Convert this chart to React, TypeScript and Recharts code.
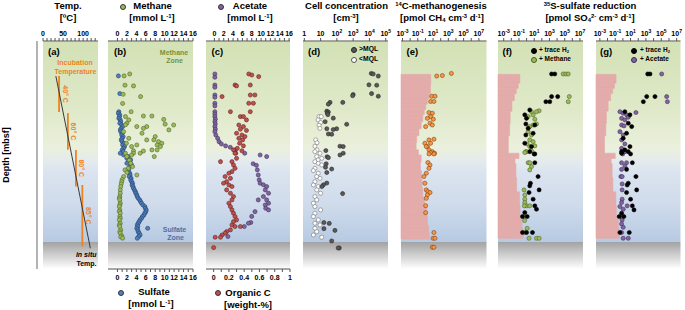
import React from "react";
import {
  ScatterChart,
  Scatter,
  XAxis,
  YAxis,
  CartesianGrid,
  ReferenceArea,
} from "recharts";

const FONT = "'Liberation Sans', Arial, Helvetica, sans-serif";
const FIG_W = 685;
const FIG_H = 310;
const PANEL_TOP = 41;
const PANEL_BOTTOM = 269;
const AXIS_H = 14;
const PAD = 10;
const EDGE = "#8a8a8a";
const ORANGE = "#f0821e";

// ---------- axes ----------
const depthTicks = [0, 100, 200, 300, 400, 500, 600, 700, 800, 900, 1000, 1100, 1200, 1300];
const tempTicks = [0, 10, 20, 30, 40, 50, 60, 70, 80, 90, 100, 110, 120, 130];
const concTicks = [0, 1, 2, 3, 4, 5, 6, 7, 8, 9, 10, 11, 12, 13, 14, 15, 16];
const orgTicks = [0, 0.1, 0.2, 0.3, 0.4, 0.5, 0.6, 0.7, 0.8, 0.9, 1];
const cellTicks = [1, 10, 100, 1000, 10000, 100000];
const rateTicks = [0.001, 0.01, 0.1, 1, 10, 100, 1000, 10000, 100000, 1000000, 10000000];

// ---------- (a) temperature ----------
const insituTemp: [number, number][] = [
  [200, 32],
  [1182, 118],
];
const incubation = [
  { t: 40, from: 200, to: 405, label: "40° C" },
  { t: 62, from: 411, to: 620, label: "60° C" },
  { t: 82, from: 621, to: 830, label: "80° C" },
  { t: 98, from: 821, to: 1172, label: "85° C" },
];

// ---------- (b) methane / sulfate [depth, mmol/L] ----------
const methane: [number, number][] = [
  [188, 2.6], [199, 1.4], [252, 1.6], [256, 3.4], [304, 1.2], [317, 4.9], [356, 1.1],
  [403, 2.9], [428, 5.5], [428, 7.3], [431, 1.7], [447, 9.8], [450, 2.4], [469, 2.0],
  [474, 10.1], [478, 1.7], [479, 11.9], [488, 4.1], [488, 6.2], [498, 5.5], [507, 10.9],
  [517, 1.3], [526, 5.2], [545, 8.0], [555, 2.4], [564, 7.7], [564, 6.2], [574, 8.7],
  [583, 9.4], [583, 1.9], [593, 8.4], [593, 4.1], [602, 9.1], [602, 3.0], [621, 8.4],
  [621, 7.3], [626, 3.4], [627, 5.5], [640, 1.7], [640, 3.4], [640, 4.8], [650, 3.0],
  [659, 2.0], [659, 7.8], [680, 2.5], [697, 2.8], [716, 3.2], [726, 2.3], [735, 1.6],
  [750, 2.0], [764, 4.1], [773, 1.3], [790, 1.0], [802, 0.9], [815, 0.8], [830, 0.7],
  [850, 0.6], [868, 0.6], [887, 0.5], [896, 0.4], [906, 0.5], [925, 0.6], [935, 0.5],
  [944, 0.4], [963, 0.5], [972, 0.4], [982, 0.6], [1001, 0.5], [1011, 0.6], [1020, 0.4],
  [1039, 0.6], [1049, 0.4], [1058, 0.5], [1077, 0.7], [1087, 0.5], [1096, 0.6],
  [1111, 0.9], [1117, 0.7], [1124, 1.1],
];
const sulfate: [number, number][] = [
  [199, 0.2], [300, 0.5], [403, 0.3], [412, 0.2], [422, 0.5], [431, 0.4], [441, 0.3],
  [450, 0.6], [460, 0.7], [469, 0.5], [478, 0.9], [488, 1.1], [498, 0.8], [507, 0.6],
  [517, 0.7], [526, 1.0], [536, 0.9], [545, 1.2], [555, 1.0], [564, 0.8], [574, 1.0],
  [583, 1.3], [593, 1.1], [602, 1.5], [612, 1.3], [621, 1.0], [631, 1.2], [640, 0.6],
  [650, 1.3], [659, 2.3], [669, 2.0], [678, 2.8], [688, 2.4], [697, 2.0], [707, 3.0],
  [716, 2.6], [735, 2.4], [754, 2.6], [764, 2.7], [773, 2.5], [783, 2.9], [792, 2.8],
  [802, 3.0], [811, 3.2], [821, 3.1], [830, 3.3], [840, 3.4], [849, 3.6], [859, 3.8],
  [868, 3.9], [878, 4.1], [887, 4.2], [897, 4.4], [906, 4.7], [916, 4.9], [925, 5.1],
  [935, 5.4], [944, 5.8], [954, 5.9], [963, 6.1], [973, 6.0], [982, 5.8], [992, 5.6],
  [1001, 5.3], [1011, 5.1], [1020, 4.8], [1030, 4.6], [1039, 4.4], [1049, 4.2],
  [1058, 4.3], [1068, 4.1], [1068, 6.4], [1077, 4.3], [1087, 4.4], [1096, 4.6],
  [1106, 4.8], [1115, 4.5], [1125, 4.2],
];

// ---------- (c) acetate [mmol/L] / organic C [wt-%] ----------
const acetate: [number, number][] = [
  [188, 0.1], [207, 0.1], [251, 0.1], [264, 0.1], [308, 0.1], [321, 0.1], [355, 0.1],
  [370, 0.1], [403, 0.1], [416, 0.1], [431, 0.1], [446, 0.2], [460, 0.1], [473, 0.2],
  [488, 0.1], [503, 0.2], [517, 0.1], [536, 0.3], [555, 0.7], [574, 1.0], [587, 1.5],
  [598, 2.4], [606, 3.4], [621, 4.5], [640, 6.5], [650, 9.8], [659, 11.2], [700, 8.3],
  [709, 9.0], [735, 9.2], [764, 9.4], [792, 9.6], [811, 9.8], [820, 10.5], [830, 11.2],
  [849, 10.9], [868, 11.6], [887, 10.5], [906, 11.2], [906, 9.4], [925, 11.6],
  [935, 10.9], [954, 11.0], [963, 11.6], [973, 8.7], [1000, 8.0], [1035, 7.8],
  [1039, 7.3], [1058, 6.4], [1115, 2.9],
];
const organicC: [number, number][] = [
  [188, 0.46], [194, 0.5], [203, 0.59], [251, 0.28], [256, 0.3], [251, 0.48], [317, 0.11],
  [308, 0.48], [308, 0.54], [355, 0.46], [355, 0.52], [403, 0.22], [403, 0.48], [431, 0.35],
  [431, 0.39], [450, 0.43], [479, 0.33], [488, 0.39], [503, 0.35], [510, 0.43], [526, 0.3],
  [536, 0.37], [545, 0.41], [555, 0.33], [564, 0.38], [583, 0.34], [598, 0.39], [612, 0.31],
  [626, 0.37], [640, 0.29], [621, 0.26], [640, 0.28], [669, 0.3], [688, 0.24], [688, 0.09],
  [707, 0.26], [726, 0.28], [745, 0.24], [754, 0.2], [773, 0.15], [783, 0.22], [802, 0.17],
  [811, 0.13], [821, 0.2], [830, 0.24], [849, 0.17], [868, 0.22], [887, 0.26], [906, 0.24],
  [925, 0.2], [944, 0.22], [963, 0.24], [982, 0.26], [1001, 0.28], [1020, 0.3],
  [1030, 0.26], [1049, 0.24], [1058, 0.28], [1058, 0.35], [1077, 0.22], [1087, 0.17],
  [1096, 0.15], [1106, 0.11], [1119, 0.09], [1119, 0.02], [1178, 0.0],
];

// ---------- (d) cell concentration [cm-3] ----------
const cellsAboveMQL: [number, number][] = [
  [185, 13000], [188, 17000], [200, 35000], [250, 9300], [252, 28000], [300, 13500],
  [315, 35000], [305, 1000], [312, 930], [350, 38], [350, 230], [360, 30], [400, 24],
  [405, 30], [412, 26], [420, 28], [440, 60], [460, 19], [475, 400], [500, 24], [500, 97],
  [505, 60], [530, 30], [532, 48], [600, 155], [602, 245], [625, 21], [640, 245],
  [650, 155], [660, 25], [665, 30], [700, 22], [720, 20], [730, 48], [750, 24], [810, 24],
  [820, 15], [830, 12], [870, 225], [1035, 16], [1040, 34], [1070, 16], [1080, 76],
  [1140, 48], [1180, 140], [1180, 120],
];
const cellsBelowMQL: [number, number][] = [
  [431, 8], [431, 11], [450, 7], [465, 10], [480, 8], [498, 9], [564, 5], [580, 6],
  [600, 4.5], [621, 6], [631, 4.5], [640, 9.2], [659, 5.8], [669, 11.7], [678, 7],
  [688, 4.5], [697, 7.2], [707, 11.7], [726, 4.5], [739, 3.6], [754, 7.2], [773, 5.8],
  [783, 9.2], [802, 4.5], [821, 3.6], [830, 7.2], [849, 5.8], [868, 10], [887, 4.5],
  [906, 5.8], [925, 3.6], [944, 4.5], [963, 10], [982, 4.5], [1001, 3.6], [1020, 7.2],
  [1039, 4.5], [1049, 9.2], [1068, 4.5], [1087, 5.8], [1106, 3.6], [1119, 11.7],
];

// ---------- (e) 14C-methanogenesis [pmol CH4 cm-3 d-1] ----------
const methanogenesis: [number, number][] = [
  [185, 2500], [197, 165], [200, 30], [315, 6.6], [315, 18], [345, 4.8], [345, 13],
  [408, 2.9], [412, 8], [431, 4.8], [441, 1.8], [446, 10.7], [469, 4], [479, 8],
  [488, 1.07], [560, 13], [564, 2.9], [583, 0.85], [583, 4.8], [602, 1.8], [602, 1.3],
  [621, 2.9], [631, 8], [637, 4.8], [640, 16], [644, 13], [644, 2.9], [693, 2.1],
  [707, 4], [726, 2.9], [754, 1.3], [773, 0.63], [811, 0.85], [849, 1.3], [859, 2.1],
  [864, 4], [878, 1.8], [897, 1.3], [939, 1.07], [979, 1.07], [1092, 13], [1125, 10],
  [1125, 18], [1176, 8], [1176, 13],
];
// detection limit (pink): [top depth, bottom depth, rate]
const methanogenesisLimit: [number, number, number][] = [
  [190, 250, 5], [250, 300, 4.5], [300, 330, 3], [330, 360, 1.8], [360, 390, 1.1],
  [390, 420, 0.7], [420, 460, 0.45], [460, 500, 0.28], [500, 540, 0.14], [540, 580, 0.07],
  [580, 620, 0.06], [620, 650, 0.12], [650, 690, 0.28], [690, 740, 0.22], [740, 790, 0.3],
  [790, 840, 0.36], [840, 890, 0.45], [890, 940, 0.8], [940, 1000, 1.5], [1000, 1050, 1.8],
  [1050, 1090, 2.5], [1090, 1130, 3],
];

// ---------- (f, g) 35S-sulfate reduction [pmol SO4 cm-3 d-1] ----------
const srrTraceH2F: [number, number][] = [
  [188, 1900], [188, 5000], [317, 1900], [317, 12000], [346, 340], [346, 1100],
  [393, 2.6], [421, 0.58], [441, 0.98], [473, 0.8], [479, 12], [498, 1.6], [526, 7.2],
  [536, 0.8], [583, 0.58], [602, 4.4], [631, 2.6], [644, 12], [644, 9.8], [694, 12],
  [773, 32], [811, 3.2], [826, 2.6], [849, 44], [864, 2.1], [902, 7.2], [940, 12],
  [959, 20], [978, 0.58], [1001, 0.29], [1001, 1.2], [1092, 0.29], [1092, 0.98], [1092, 5.9],
];
const srrMethane: [number, number][] = [
  [188, 63000], [188, 140000], [188, 290000], [317, 400000], [346, 290000],
  [398, 44], [403, 4.4], [403, 20], [421, 7.2], [431, 1.6], [446, 12], [473, 20],
  [479, 7.2], [488, 2.6], [517, 1.6], [536, 4.4], [564, 2.6], [574, 7.2], [587, 1.2],
  [598, 12], [602, 2.6], [626, 4.4], [631, 0.8], [631, 0.98], [636, 0.58], [694, 1.6],
  [694, 2.6], [716, 4.4], [735, 2.6], [849, 0.47], [878, 0.58], [902, 0.58], [921, 0.58],
  [940, 0.98], [940, 2.6], [940, 0.5], [1001, 0.5], [1024, 0.55], [1068, 1.2],
  [1092, 0.58], [1125, 2.1], [1125, 20], [1125, 44],
];
const srrTraceH2G: [number, number][] = [
  [188, 1700], [188, 3400], [317, 1260], [317, 15000], [346, 460], [403, 1.8], [421, 8.3],
  [469, 5], [488, 14], [526, 3], [555, 1.1], [602, 8.3], [621, 1.8], [640, 0.68],
  [631, 0.68], [631, 5], [644, 10], [694, 17], [732, 3], [773, 50], [811, 5], [821, 3.6],
  [849, 62], [864, 3], [902, 10], [940, 17], [963, 28], [982, 0.68], [1001, 0.33],
  [1001, 1.35], [1092, 0.41], [1092, 6.8],
];
const srrAcetate: [number, number][] = [
  [188, 112000], [317, 500000], [346, 620000], [403, 0.41], [408, 50], [412, 1.1],
  [421, 3], [435, 5], [441, 0.68], [450, 1.8], [479, 0.68], [484, 1.4], [517, 0.41],
  [536, 1.1], [564, 0.68], [587, 1.8], [612, 0.68], [631, 1.4], [631, 1.8], [644, 0.95],
  [694, 0.68], [694, 3], [713, 1.8], [732, 0.68], [773, 0.55], [773, 0.8], [815, 0.8],
  [849, 0.8], [902, 0.8], [921, 0.68], [940, 3.6], [944, 0.41], [959, 1.1], [1001, 0.68],
  [1020, 0.8], [1043, 0.68], [1062, 1.1], [1092, 0.68], [1125, 1.1], [1125, 5],
];
const srrLimit: [number, number, number][] = [
  [190, 240, 0.13], [240, 270, 0.08], [270, 300, 0.045], [300, 340, 0.025], [340, 400, 0.012],
  [400, 470, 0.007], [470, 540, 0.006], [540, 640, 0.004], [640, 670, 0.1], [670, 700, 0.03],
  [700, 780, 0.04], [780, 860, 0.05], [860, 940, 0.12], [940, 1010, 0.14], [1010, 1070, 0.25],
  [1070, 1125, 0.33],
];

const pts = (rows: [number, number][]) => rows.map(([d, v]) => ({ d, v }));

const dot = (fill: string, stroke: string, r = 2.05) => (p: any) =>
  p.cx == null ? <g /> : (
    <circle cx={p.cx} cy={p.cy} r={r} fill={fill} stroke={stroke} strokeWidth={0.55} />
  );
const noDot = () => <g />;

const sup = (s: string) => (
  <tspan dy={-3} fontSize={5}>
    {s}
  </tspan>
);

const evenLabel = (v: number) => (v % 2 === 0 ? String(v) : null);
const tempLabel = (v: number) => (v % 50 === 0 ? String(v) : null);
const orgLabel = (v: number) => {
  const k = Math.round(v * 10);
  if (k % 2 !== 0) return null;
  return k === 0 ? "0" : k === 10 ? "1" : (k / 10).toFixed(1);
};
const cellLabel = (v: number) => {
  const e = Math.round(Math.log10(v));
  if (e === 0) return "1";
  if (e === 1) return "10";
  return <>10{sup(String(e))}</>;
};
const rateLabel = (v: number) => {
  const e = Math.round(Math.log10(v));
  if (Math.abs(e) % 2 !== 1) return null;
  return <>10{sup(String(e))}</>;
};

const tickFn = (fmt: (v: number) => React.ReactNode, top: boolean) => (p: any) => {
  const c = fmt(p.payload.value);
  if (c == null) return <g />;
  return (
    <text
      x={p.x}
      y={top ? p.y : p.y + 6}
      textAnchor="middle"
      fontSize={7}
      fontWeight={700}
      fontFamily={FONT}
      fill="#000"
    >
      {c}
    </text>
  );
};

function Gradient({ id }: { id: string }) {
  return (
    <linearGradient id={id} x1="0" y1="0" x2="0" y2="1">
      <stop offset="0" stopColor="#d3e1b5" />
      <stop offset="0.3" stopColor="#dfe9c9" />
      <stop offset="0.47" stopColor="#eaf0dc" />
      <stop offset="0.53" stopColor="#e4eaee" />
      <stop offset="0.57" stopColor="#dbe4f0" />
      <stop offset="0.72" stopColor="#cfdbeb" />
      <stop offset="0.88" stopColor="#b7cae3" />
      <stop offset="0.88" stopColor="#a1a1a1" />
      <stop offset="1" stopColor="#ffffff" />
    </linearGradient>
  );
}

type BottomAxis = { domain: [number, number]; ticks: number[]; label: (v: number) => React.ReactNode };

type PanelProps = {
  id: string;
  left: number;
  right: number;
  domain: [number, number];
  log?: boolean;
  ticks: number[];
  label: (v: number) => React.ReactNode;
  bottom?: BottomAxis;
  children?: React.ReactNode;
};

function Panel(p: PanelProps) {
  const w = p.right - p.left + 2 * PAD;
  const scale = p.log ? "log" : "linear";
  const b = p.bottom;
  return (
    <div style={{ position: "absolute", left: p.left - PAD, top: 0 }}>
      <ScatterChart
        width={w}
        height={FIG_H}
        margin={{
          top: PANEL_TOP - AXIS_H,
          right: PAD,
          left: PAD,
          bottom: FIG_H - PANEL_BOTTOM - (b ? AXIS_H : 0),
        }}
      >
        <defs>
          <Gradient id={`bg-${p.id}`} />
        </defs>
        <CartesianGrid horizontal={false} vertical={false} fill={`url(#bg-${p.id})`} />
        <XAxis
          orientation="top"
          type="number"
          dataKey="v"
          scale={scale}
          domain={p.domain}
          allowDataOverflow
          ticks={p.ticks}
          interval={0}
          height={AXIS_H}
          tickSize={3}
          tickMargin={2}
          axisLine={{ stroke: EDGE, strokeWidth: 1.3 }}
          tickLine={{ stroke: "#555" }}
          tick={tickFn(p.label, true)}
        />
        {b ? (
          <XAxis
            xAxisId="b"
            orientation="bottom"
            type="number"
            dataKey="v"
            domain={b.domain}
            allowDataOverflow
            ticks={b.ticks}
            interval={0}
            height={AXIS_H}
            tickSize={3}
            tickMargin={2}
            axisLine={{ stroke: EDGE, strokeWidth: 1.3 }}
            tickLine={{ stroke: "#555" }}
            tick={tickFn(b.label, false)}
          />
        ) : (
          <XAxis
            xAxisId="b"
            orientation="bottom"
            type="number"
            dataKey="v"
            scale={scale}
            domain={p.domain}
            allowDataOverflow
            height={0}
            tick={false}
            tickLine={false}
            axisLine={{ stroke: EDGE, strokeWidth: 1.3 }}
          />
        )}
        <YAxis
          type="number"
          dataKey="d"
          domain={[0, 1300]}
          reversed
          width={0}
          tick={false}
          tickLine={false}
          axisLine={{ stroke: EDGE, strokeWidth: 1.3 }}
        />
        <YAxis
          yAxisId="r"
          orientation="right"
          type="number"
          dataKey="d"
          domain={[0, 1300]}
          reversed
          width={0}
          tick={false}
          tickLine={false}
          axisLine={{ stroke: EDGE, strokeWidth: 1.3 }}
        />
        {p.children}
      </ScatterChart>
    </div>
  );
}

const limitAreas = (rows: [number, number, number][], min: number, key: string) =>
  rows.map(([from, to, lim], i) => (
    <ReferenceArea
      key={`${key}-${i}`}
      x1={min}
      x2={lim}
      y1={from}
      y2={to}
      fill="#e3abaa"
      fillOpacity={1}
      stroke="#e3abaa"
      strokeWidth={0.6}
      ifOverflow="visible"
    />
  ));

const T = ({
  x,
  y,
  children,
  size = 7,
  color = "#000",
  anchor = "middle",
  italic = false,
}: {
  x: number;
  y: number;
  children: React.ReactNode;
  size?: number;
  color?: string;
  anchor?: "start" | "middle" | "end";
  italic?: boolean;
}) => (
  <div
    style={{
      position: "absolute",
      left: x,
      top: y,
      transform: `translate(${anchor === "middle" ? "-50%" : anchor === "end" ? "-100%" : "0"}, -50%)`,
      fontSize: size,
      fontWeight: 700,
      fontStyle: italic ? "italic" : "normal",
      color,
      whiteSpace: "nowrap",
      lineHeight: 1,
      fontFamily: FONT,
    }}
  >
    {children}
  </div>
);

const Sp = ({ children }: { children: React.ReactNode }) => (
  <span style={{ fontSize: "0.62em", position: "relative", top: "-0.45em" }}>{children}</span>
);
const Sb = ({ children }: { children: React.ReactNode }) => (
  <span style={{ fontSize: "0.62em", position: "relative", top: "0.25em" }}>{children}</span>
);

const Mark = ({ x, y, fill, stroke = "#333" }: { x: number; y: number; fill: string; stroke?: string }) => (
  <div
    style={{
      position: "absolute",
      left: x - 2.5,
      top: y - 2.5,
      width: 4,
      height: 4,
      borderRadius: "50%",
      background: fill,
      border: `0.5px solid ${stroke}`,
    }}
  />
);

const GREEN = "#9bbb59";
const BLUE = "#4f81bd";
const PURPLE = "#8064a2";
const RED = "#c0504d";

const MG_MIN = Math.pow(10, -3.2);
const MG_MAX = Math.pow(10, 8);
const F_MIN = Math.pow(10, -3.75);
const F_MAX = Math.pow(10, 7.4);
const G_MIN = Math.pow(10, -3.5);
const G_MAX = Math.pow(10, 7.5);

const insituLine = insituTemp.map(([d, t]) => ({ d, v: t }));
const incubationLines = incubation.map((s) => [
  { d: s.from, v: s.t },
  { d: s.to, v: s.t },
]);
const incubationLabels = incubation.map((s) => ({ d: (s.from + s.to) / 2, v: s.t + 15, label: s.label }));

const rotatedLabel = (p: any) =>
  p.cx == null ? (
    <g />
  ) : (
    <text
      x={p.cx}
      y={p.cy}
      transform={`rotate(90, ${p.cx}, ${p.cy})`}
      textAnchor="middle"
      dominantBaseline="central"
      fontSize={7}
      fontWeight={700}
      fontFamily={FONT}
      fill={ORANGE}
    >
      {p.payload?.label}
    </text>
  );

export default function App() {
  return (
    <div
      style={{
        position: "absolute",
        left: 0,
        top: 0,
        width: FIG_W,
        height: FIG_H,
        background: "#fff",
        fontFamily: FONT,
        overflow: "hidden",
      }}
    >
      {/* depth axis */}
      <div style={{ position: "absolute", left: 0, top: 0 }}>
        <ScatterChart
          width={40}
          height={FIG_H}
          margin={{ top: PANEL_TOP, bottom: FIG_H - PANEL_BOTTOM, left: 0, right: 3 }}
        >
          <XAxis type="number" dataKey="v" hide domain={[0, 1]} />
          <YAxis
            type="number"
            dataKey="d"
            domain={[0, 1300]}
            reversed
            ticks={depthTicks}
            interval={0}
            width={37}
            tickSize={3}
            tickMargin={2}
            axisLine={{ stroke: EDGE, strokeWidth: 1.3 }}
            tickLine={{ stroke: "#555" }}
            tick={(p: any) =>
              p.payload.value % 200 === 0 ? (
                <text
                  x={p.x}
                  y={p.y + 2.5}
                  textAnchor="end"
                  fontSize={7}
                  fontWeight={700}
                  fontFamily={FONT}
                  fill="#000"
                >
                  {p.payload.value}
                </text>
              ) : (
                <g />
              )
            }
          />
        </ScatterChart>
      </div>

      {/* (a) temperature */}
      <Panel id="a" left={43} right={98} domain={[0, 137]} ticks={tempTicks} label={tempLabel}>
        {incubationLines.map((seg, i) => (
          <Scatter
            key={`inc-${i}`}
            data={seg}
            line={{ stroke: ORANGE, strokeWidth: 1.8 }}
            lineType="joint"
            shape={noDot}
            isAnimationActive={false}
          />
        ))}
        <Scatter
          data={insituLine}
          line={{ stroke: "#3a3a3a", strokeWidth: 1 }}
          lineType="joint"
          shape={noDot}
          isAnimationActive={false}
        />
        <Scatter data={incubationLabels} shape={rotatedLabel} isAnimationActive={false} />
      </Panel>

      {/* (b) methane / sulfate */}
      <Panel
        id="b"
        left={108}
        right={193}
        domain={[-2, 16]}
        ticks={concTicks}
        label={evenLabel}
        bottom={{ domain: [-2, 16], ticks: concTicks, label: evenLabel }}
      >
        <Scatter data={pts(sulfate)} xAxisId="b" shape={dot(BLUE, "#1f3d66")} isAnimationActive={false} />
        <Scatter data={pts(methane)} shape={dot(GREEN, "#4a5e22")} isAnimationActive={false} />
      </Panel>

      {/* (c) acetate / organic C */}
      <Panel
        id="c"
        left={206}
        right={290}
        domain={[-1.8, 16.2]}
        ticks={concTicks}
        label={evenLabel}
        bottom={{ domain: [-0.1, 1], ticks: orgTicks, label: orgLabel }}
      >
        <Scatter data={pts(acetate)} shape={dot(PURPLE, "#3c2c55")} isAnimationActive={false} />
        <Scatter data={pts(organicC)} xAxisId="b" shape={dot(RED, "#5a1e1c")} isAnimationActive={false} />
      </Panel>

      {/* (d) cells */}
      <Panel
        id="d"
        left={303}
        right={388}
        domain={[0.83, 138000]}
        log
        ticks={cellTicks}
        label={cellLabel}
      >
        <Scatter data={pts(cellsBelowMQL)} shape={dot("#ffffff", "#6a6a6a")} isAnimationActive={false} />
        <Scatter data={pts(cellsAboveMQL)} shape={dot("#595959", "#222")} isAnimationActive={false} />
      </Panel>

      {/* (e) methanogenesis */}
      <Panel id="e" left={400.5} right={486} domain={[MG_MIN, MG_MAX]} log ticks={rateTicks} label={rateLabel}>
        {limitAreas(methanogenesisLimit, MG_MIN, "mg")}
        <Scatter data={pts(methanogenesis)} shape={dot("#f79646", "#7a3a08")} isAnimationActive={false} />
      </Panel>

      {/* (f) SRR + methane */}
      <Panel id="f" left={498} right={583} domain={[F_MIN, F_MAX]} log ticks={rateTicks} label={rateLabel}>
        {limitAreas(srrLimit, F_MIN, "sf")}
        <Scatter data={pts(srrMethane)} shape={dot(GREEN, "#4a5e22")} isAnimationActive={false} />
        <Scatter data={pts(srrTraceH2F)} shape={dot("#000", "#000")} isAnimationActive={false} />
      </Panel>

      {/* (g) SRR + acetate */}
      <Panel id="g" left={595.5} right={680} domain={[G_MIN, G_MAX]} log ticks={rateTicks} label={rateLabel}>
        {limitAreas(srrLimit, G_MIN, "sg")}
        <Scatter data={pts(srrAcetate)} shape={dot(PURPLE, "#3c2c55")} isAnimationActive={false} />
        <Scatter data={pts(srrTraceH2G)} shape={dot("#000", "#000")} isAnimationActive={false} />
      </Panel>

      {/* titles */}
      <T x={68} y={6} size={9.5}>Temp.</T>
      <T x={68} y={17.5} size={9.5}>[ºC]</T>
      <Mark x={122} y={6} fill={GREEN} />
      <T x={152.5} y={6} size={9.5}>Methane</T>
      <T x={152} y={17.5} size={9.5}>
        [mmol L<Sp>-1</Sp>]
      </T>
      <Mark x={220} y={6} fill={PURPLE} />
      <T x={250} y={6} size={9.5}>Acetate</T>
      <T x={250} y={17.5} size={9.5}>
        [mmol L<Sp>-1</Sp>]
      </T>
      <T x={346.5} y={6} size={9.5}>Cell concentration</T>
      <T x={346} y={17.5} size={9.5}>
        [cm<Sp>-3</Sp>]
      </T>
      <T x={441} y={6} size={9.5}>
        <Sp>14</Sp>C-methanogenesis
      </T>
      <T x={442} y={17.5} size={9.5}>
        [pmol CH<Sb>4</Sb> cm<Sp>-3</Sp> d<Sp>-1</Sp>]
      </T>
      <T x={590} y={5.5} size={9.5}>
        <Sp>35</Sp>S-sulfate reduction
      </T>
      <T x={590} y={17.5} size={9.5}>
        [pmol SO<Sb>4</Sb>
        <Sp>2-</Sp> cm<Sp>-3</Sp> d<Sp>-1</Sp>]
      </T>

      {/* bottom titles */}
      <Mark x={120} y={292} fill={BLUE} />
      <T x={154} y={292} size={9.5}>Sulfate</T>
      <T x={151} y={304} size={9.5}>
        [mmol L<Sp>-1</Sp>]
      </T>
      <Mark x={217} y={292.5} fill={RED} />
      <T x={248} y={292.5} size={9.5}>Organic C</T>
      <T x={248} y={304.5} size={9.5}>[weight-%]</T>

      {/* depth label */}
      <div
        style={{
          position: "absolute",
          left: 6,
          top: 155,
          transform: "translate(-50%, -50%) rotate(-90deg)",
          fontSize: 9,
          fontWeight: 700,
          whiteSpace: "nowrap",
          fontFamily: FONT,
        }}
      >
        Depth [mbsf]
      </div>

      {/* panel annotations */}
      <T x={48} y={52} size={9.5} anchor="start">(a)</T>
      <T x={75} y={62} color={ORANGE}>Incubation</T>
      <T x={75.5} y={71} color={ORANGE}>Temperature</T>
      <T x={96.5} y={254} anchor="end" italic>in situ</T>
      <T x={96.5} y={262.5} anchor="end">Temp.</T>

      <T x={114} y={52} size={9.5} anchor="start">(b)</T>
      <T x={174} y={51.5} color="#76923c">Methane</T>
      <T x={174.5} y={60} color="#76923c">Zone</T>
      <T x={174.5} y={228.5} color="#4a70a8">Sulfate</T>
      <T x={175.5} y={237.3} color="#4a70a8">Zone</T>

      <T x={211.5} y={52} size={9.5} anchor="start">(c)</T>

      <T x={308} y={52} size={9.5} anchor="start">(d)</T>
      <Mark x={353.3} y={49.3} fill="#595959" stroke="#222" />
      <T x={359} y={49.3} size={6.8} anchor="start">&gt;MQL</T>
      <Mark x={353.3} y={59.3} fill="#fff" stroke="#555" />
      <T x={359} y={59.3} size={6.8} anchor="start">&lt;MQL</T>

      <T x={406.5} y={52} size={9.5} anchor="start">(e)</T>

      <T x={502.5} y={52} size={9.5} anchor="start">(f)</T>
      <Mark x={533} y={50} fill="#000" stroke="#000" />
      <T x={539} y={50} size={6.5} anchor="start">
        + trace H<Sb>2</Sb>
      </T>
      <Mark x={533} y={59.3} fill={GREEN} stroke="#4a5e22" />
      <T x={539} y={59.3} size={6.5} anchor="start">+ Methane</T>

      <T x={600} y={52} size={9.5} anchor="start">(g)</T>
      <Mark x={633.3} y={50} fill="#000" stroke="#000" />
      <T x={640} y={50} size={6.5} anchor="start">
        + trace H<Sb>2</Sb>
      </T>
      <Mark x={633.3} y={59.3} fill={PURPLE} stroke="#3c2c55" />
      <T x={640} y={59.3} size={6.5} anchor="start">+ Acetate</T>
    </div>
  );
}
